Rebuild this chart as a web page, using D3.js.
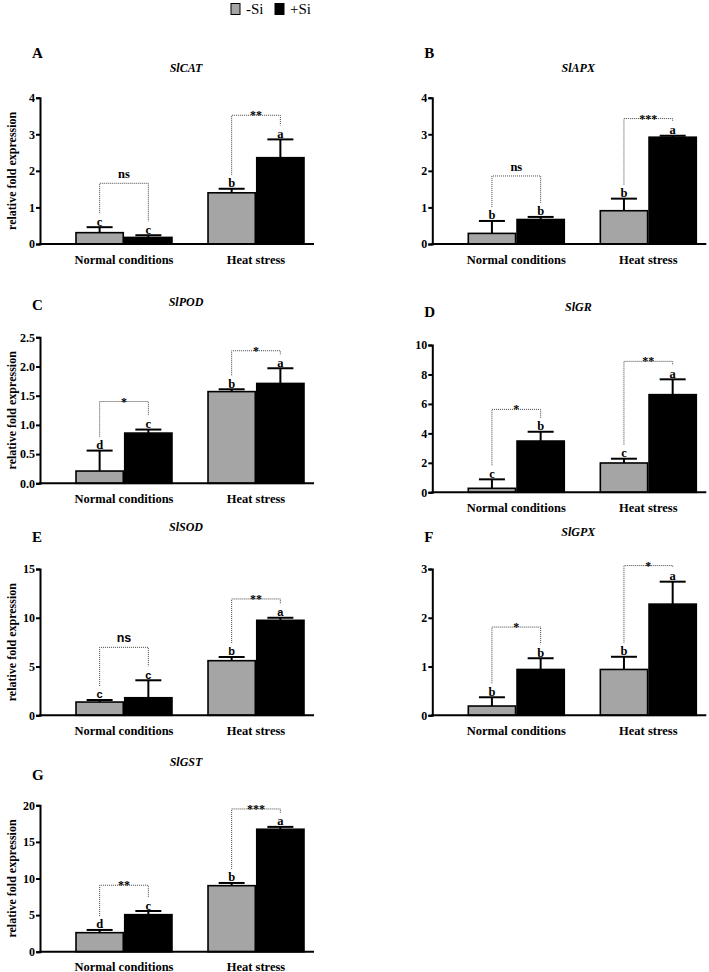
<!DOCTYPE html>
<html>
<head>
<meta charset="utf-8">
<script src="https://cdn.jsdelivr.net/npm/d3@7"></script>
<style>
  body { margin: 0; background: #fff; }
</style>
</head>
<body>
<div class="container"></div>
<script>
// groups and treatments
const groups = ['Normal conditions', 'Heat stress'];
const treatments = ['-Si', '+Si'];

// one entry per panel, order: normal -Si, normal +Si, heat -Si, heat +Si
const panelLetters = ['A', 'B', 'C', 'D', 'E', 'F', 'G'];
const genes = ['SlCAT', 'SlAPX', 'SlPOD', 'SlGR', 'SlSOD', 'SlGPX', 'SlGST'];

const catMean = [0.31, 0.18, 1.40, 2.36];
const catSd   = [0.15, 0.06, 0.11, 0.50];
const apxMean = [0.29, 0.67, 0.91, 2.92];
const apxSd   = [0.34, 0.07, 0.33, 0.04];
const podMean = [0.21, 0.86, 1.57, 1.71];
const podSd   = [0.35, 0.06, 0.04, 0.26];
const grMean  = [0.27, 3.48, 1.99, 6.63];
const grSd    = [0.61, 0.63, 0.29, 1.04];
const sodMean = [1.36, 1.80, 5.60, 9.74];
const sodSd   = [0.21, 1.79, 0.38, 0.26];
const gpxMean = [0.19, 0.94, 0.94, 2.28];
const gpxSd   = [0.18, 0.23, 0.26, 0.46];
const gstMean = [2.60, 5.06, 9.02, 16.73];
const gstSd   = [0.37, 0.50, 0.37, 0.32];

const catLetters = ['c', 'c', 'b', 'a'];
const apxLetters = ['b', 'b', 'b', 'a'];
const podLetters = ['d', 'c', 'b', 'a'];
const grLetters  = ['c', 'b', 'c', 'a'];
const sodLetters = ['c', 'c', 'b', 'a'];
const gpxLetters = ['b', 'b', 'b', 'a'];
const gstLetters = ['d', 'c', 'b', 'a'];

// significance between -Si and +Si in each group, and bracket level (data units)
const catSig = ['ns', '**'];   const catBracket = [1.66, 3.52];
const apxSig = ['ns', '***'];  const apxBracket = [1.86, 3.43];
const podSig = ['*', '*'];     const podBracket = [1.40, 2.27];
const grSig  = ['*', '**'];    const grBracket  = [5.63, 8.89];
const sodSig = ['ns', '**'];   const sodBracket = [6.97, 11.93];
const gpxSig = ['*', '*'];     const gpxBracket = [1.81, 3.07];
const gstSig = ['**', '***'];  const gstBracket = [9.08, 19.5];

const catTicks = [0, 1, 2, 3, 4];
const apxTicks = [0, 1, 2, 3, 4];
const podTicks = [0, 0.5, 1.0, 1.5, 2.0, 2.5];
const grTicks  = [0, 2, 4, 6, 8, 10];
const sodTicks = [0, 5, 10, 15];
const gpxTicks = [0, 1, 2, 3];
const gstTicks = [0, 5, 10, 15, 20];

const means    = [catMean, apxMean, podMean, grMean, sodMean, gpxMean, gstMean];
const sds      = [catSd, apxSd, podSd, grSd, sodSd, gpxSd, gstSd];
const letters  = [catLetters, apxLetters, podLetters, grLetters, sodLetters, gpxLetters, gstLetters];
const sigs     = [catSig, apxSig, podSig, grSig, sodSig, gpxSig, gstSig];
const brackets = [catBracket, apxBracket, podBracket, grBracket, sodBracket, gpxBracket, gstBracket];
const ticks    = [catTicks, apxTicks, podTicks, grTicks, sodTicks, gpxTicks, gstTicks];

// layout of each panel on the page
const layout = [
    { x: 40,    top: 97.7,  bottom: 244,   letterY: 58,  titleY: 72,  ylab: true,  fmt: 'd' },
    { x: 432.3, top: 97.7,  bottom: 244,   letterY: 58,  titleY: 72,  ylab: false, fmt: 'd' },
    { x: 40,    top: 337.3, bottom: 483.3, letterY: 310, titleY: 306, ylab: true,  fmt: '.1f' },
    { x: 432.3, top: 345,   bottom: 492.3, letterY: 317, titleY: 311, ylab: false, fmt: 'd' },
    { x: 40,    top: 569,   bottom: 715.3, letterY: 542, titleY: 531, ylab: true,  fmt: 'd', sans: true },
    { x: 432.3, top: 569,   bottom: 715.3, letterY: 542, titleY: 536, ylab: false, fmt: 'd' },
    { x: 40,    top: 805.3, bottom: 951.7, letterY: 780, titleY: 766, ylab: true,  fmt: 'd' }
];

const SERIF = 'Liberation Serif, DejaVu Serif, serif';
const SANS = 'Liberation Sans, DejaVu Sans, sans-serif';

const width = 709;
const height = 972;
const colors = d3.scaleOrdinal().domain(treatments).range(['#a5a5a5', '#000000']);

const svg = d3.select('.container').append('svg').attr('width', width).attr('height', height)
    .attr('font-family', SERIF).style('display', 'block');

// legend
const legend = svg.append('g');
treatments.forEach((t, i) =>
{
    const lx = 231 + i * 44;
    legend.append('rect').attr('x', lx).attr('y', 3.5).attr('width', 9).attr('height', 11)
        .attr('fill', colors(t)).attr('stroke', '#000').attr('stroke-width', 1);
    legend.append('text').attr('x', lx + 15).attr('y', 14).attr('font-family', SERIF)
        .attr('font-size', 15).text(t);
});

for (let p = 0; p < genes.length; p++)
{
    const L = layout[p];
    const g = svg.append('g');

    const y = d3.scaleLinear().domain([0, d3.max(ticks[p])]).range([L.bottom, L.top]);
    const x0 = d3.scaleBand().domain(groups).range([L.x + 36, L.x + 264]).paddingInner(0.273);
    const x1 = d3.scaleBand().domain(treatments).range([0, x0.bandwidth()]).paddingInner(0.03);

    // panel letter and gene title
    g.append('text').attr('x', L.x - 8).attr('y', L.letterY).attr('font-family', SERIF).attr('font-size', 15)
        .attr('font-weight', 'bold').text(panelLetters[p]);
    g.append('text').attr('x', L.x + 146).attr('y', L.titleY).attr('text-anchor', 'middle').attr('font-family', SERIF)
        .attr('font-size', 12).attr('font-weight', 'bold').attr('font-style', 'italic').text(genes[p]);

    // y axis
    const yAxis = g.append('g').attr('transform', `translate(${L.x},0)`)
        .call(d3.axisLeft(y).tickValues(ticks[p]).tickSizeOuter(0).tickSize(4).tickFormat(d3.format(L.fmt)));
    yAxis.attr('font-family', SERIF);
    yAxis.select('.domain').attr('stroke-width', 2);
    yAxis.selectAll('.tick line').attr('stroke-width', 2);
    yAxis.selectAll('.tick text').attr('font-family', SERIF)
        .attr('font-size', 12).attr('font-weight', 'bold').attr('fill', '#000').attr('x', -5);

    if (L.ylab)
    {
        g.append('text').attr('transform', `translate(${L.x - 24},${(L.top + L.bottom) / 2}) rotate(-90)`)
            .attr('text-anchor', 'middle').attr('font-family', SERIF).attr('font-size', 12).attr('font-weight', 'bold')
            .text('relative fold expression');
    }

    // bars
    const rows = [];
    groups.forEach((grp, gi) => treatments.forEach((t, ti) =>
    {
        const k = gi * 2 + ti;
        rows.push({ grp: grp, t: t, mean: means[p][k], sd: sds[p][k], letter: letters[p][k] });
    }));

    const cx = d => x0(d.grp) + x1(d.t) + x1.bandwidth() / 2;

    // error bars (upper only)
    g.selectAll('.err').data(rows).enter().append('line')
        .attr('x1', cx).attr('x2', cx)
        .attr('y1', d => y(d.mean)).attr('y2', d => y(d.mean + d.sd))
        .attr('stroke', '#000').attr('stroke-width', 2);
    g.selectAll('.cap').data(rows).enter().append('line')
        .attr('x1', d => cx(d) - 13).attr('x2', d => cx(d) + 13)
        .attr('y1', d => y(d.mean + d.sd)).attr('y2', d => y(d.mean + d.sd))
        .attr('stroke', '#000').attr('stroke-width', 2);

    g.selectAll('.bar').data(rows).enter().append('rect')
        .attr('x', d => x0(d.grp) + x1(d.t))
        .attr('y', d => y(d.mean))
        .attr('width', x1.bandwidth())
        .attr('height', d => L.bottom - y(d.mean))
        .attr('fill', d => colors(d.t))
        .attr('stroke', '#000').attr('stroke-width', 1.6);

    // letters above error bars
    g.selectAll('.lt').data(rows).enter().append('text')
        .attr('x', cx).attr('y', d => y(d.mean + d.sd) - 1.5)
        .attr('text-anchor', 'middle')
        .attr('font-family', L.sans ? SANS : SERIF)
        .attr('font-size', L.sans ? 11 : 12.5).attr('font-weight', 'bold')
        .text(d => d.letter);

    // x axis
    g.append('line').attr('x1', L.x - 1).attr('x2', L.x + 274).attr('y1', L.bottom).attr('y2', L.bottom)
        .attr('stroke', '#000').attr('stroke-width', 2);
    groups.forEach(grp =>
    {
        g.append('text').attr('x', x0(grp) + x0.bandwidth() / 2).attr('y', L.bottom + 19.5)
            .attr('text-anchor', 'middle').attr('font-family', SERIF)
            .attr('font-size', 12.5).attr('font-weight', 'bold').text(grp);
    });

    // significance brackets
    groups.forEach((grp, gi) =>
    {
        const a = rows[gi * 2], b = rows[gi * 2 + 1];
        const by = y(brackets[p][gi]);
        const xa = cx(a), xb = cx(b);
        const ya = y(a.mean + a.sd) - 14, yb = y(b.mean + b.sd) - 14;
        g.append('path').attr('d', `M${xa},${ya}V${by}H${xb}V${yb}`)
            .attr('fill', 'none').attr('stroke', '#444').attr('stroke-width', 1)
            .attr('stroke-dasharray', '1,1');
        const s = sigs[p][gi];
        const isNs = s === 'ns';
        g.append('text').attr('x', (xa + xb) / 2).attr('y', isNs ? by - 5 : by + 4)
            .attr('text-anchor', 'middle')
            .attr('font-family', L.sans && isNs ? SANS : SERIF)
            .attr('font-size', isNs ? 12.5 : 12).attr('font-weight', 'bold').text(s);
    });
}
</script>
</body>
</html>
